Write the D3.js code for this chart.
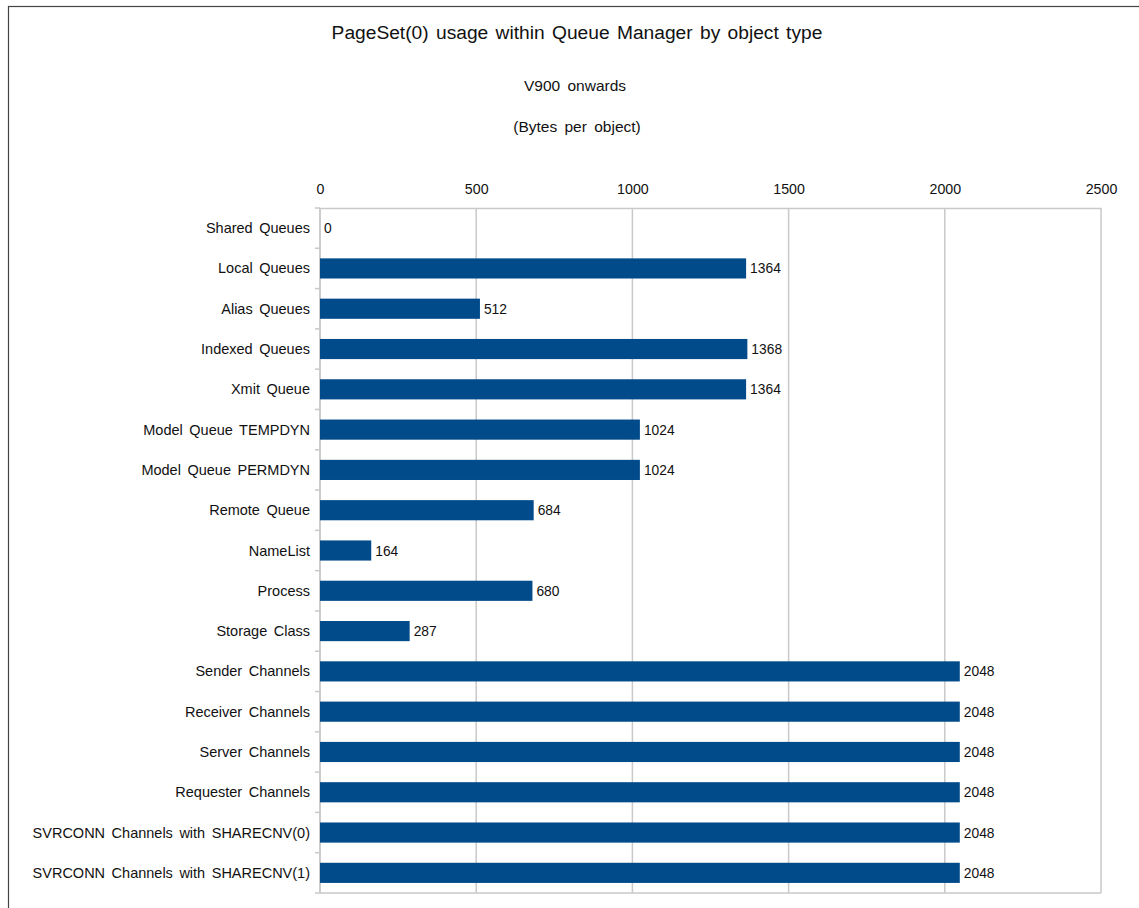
<!DOCTYPE html>
<html>
<head>
<meta charset="utf-8">
<script src="https://cdn.jsdelivr.net/npm/d3@7/dist/d3.min.js"></script>
<style>
  html, body { margin: 0; padding: 0; background: #fff; }
  svg { display: block; font-family: "Liberation Sans", Arial, Helvetica, sans-serif; }
</style>
</head>
<body>
<svg id="chart" width="1139" height="908"></svg>
<script>
// Object types held in PageSet(0), top to bottom
const categories = [
  "Shared Queues",
  "Local Queues",
  "Alias Queues",
  "Indexed Queues",
  "Xmit Queue",
  "Model Queue TEMPDYN",
  "Model Queue PERMDYN",
  "Remote Queue",
  "NameList",
  "Process",
  "Storage Class",
  "Sender Channels",
  "Receiver Channels",
  "Server Channels",
  "Requester Channels",
  "SVRCONN Channels with SHARECNV(0)",
  "SVRCONN Channels with SHARECNV(1)"
];

// Bytes per object
const bytesPerObject = [0, 1364, 512, 1368, 1364, 1024, 1024, 684, 164, 680, 287, 2048, 2048, 2048, 2048, 2048, 2048];

const xTicks = [0, 500, 1000, 1500, 2000, 2500];

const titleText = "PageSet(0) usage within Queue Manager by object type";
const subtitleText = "V900 onwards";
const unitText = "(Bytes per object)";

const svg = d3.select("#chart");
const W = 1139, H = 908;
const plot = { left: 320, right: 1101, top: 208, bottom: 893 };
const barColor = "#024b8a";
const gridColor = "#c9c9c9";

// outer frame
svg.append("rect")
  .attr("x", 8.5).attr("y", 6.5)
  .attr("width", W + 10).attr("height", H + 10)
  .attr("fill", "#fff").attr("stroke", "#444").attr("stroke-width", 1.2);

// titles
svg.append("text").attr("x", 577).attr("y", 39)
  .attr("text-anchor", "middle").attr("font-size", 19.2)
  .attr("word-spacing", 2).attr("fill", "#111").text(titleText);
svg.append("text").attr("x", 575).attr("y", 91)
  .attr("text-anchor", "middle").attr("font-size", 15.5)
  .attr("word-spacing", 3).attr("fill", "#111").text(subtitleText);
svg.append("text").attr("x", 577).attr("y", 132)
  .attr("text-anchor", "middle").attr("font-size", 15.5)
  .attr("word-spacing", 3).attr("fill", "#111").text(unitText);

const x = d3.scaleLinear().domain([0, 2500]).range([plot.left, plot.right]);
const y = d3.scaleBand().domain(categories).range([plot.top, plot.bottom]).paddingInner(0.5).paddingOuter(0.25);

// vertical gridlines
svg.append("g").selectAll("line").data(xTicks).join("line")
  .attr("x1", d => x(d)).attr("x2", d => x(d))
  .attr("y1", plot.top).attr("y2", plot.bottom)
  .attr("stroke", gridColor).attr("stroke-width", 1.5);

// top axis
const xAxis = svg.append("g").attr("transform", `translate(0,${plot.top})`)
  .call(d3.axisTop(x).tickValues(xTicks).tickSize(0).tickPadding(14).tickFormat(d3.format("d")));
xAxis.select(".domain").attr("stroke", gridColor).attr("stroke-width", 1.5);
xAxis.selectAll("text").attr("font-size", 14.2).attr("fill", "#111")
  .attr("font-family", "'Liberation Sans', Arial, sans-serif");

// bottom line
svg.append("line").attr("x1", plot.left).attr("x2", plot.right)
  .attr("y1", plot.bottom).attr("y2", plot.bottom)
  .attr("stroke", gridColor).attr("stroke-width", 1.5);

// left axis with ticks between categories
const boundaries = d3.range(categories.length + 1).map(i => plot.top + i * (plot.bottom - plot.top) / categories.length);
svg.append("line").attr("x1", plot.left).attr("x2", plot.left)
  .attr("y1", plot.top).attr("y2", plot.bottom)
  .attr("stroke", gridColor).attr("stroke-width", 1.5);
svg.append("g").selectAll("line").data(boundaries).join("line")
  .attr("x1", plot.left - 5).attr("x2", plot.left)
  .attr("y1", d => d).attr("y2", d => d)
  .attr("stroke", gridColor).attr("stroke-width", 1.5);

// category labels
svg.append("g").selectAll("text").data(categories).join("text")
  .attr("x", plot.left - 10)
  .attr("y", d => y(d) + y.bandwidth() / 2 + 5)
  .attr("text-anchor", "end").attr("font-size", 14.5)
  .attr("word-spacing", 2.5).attr("fill", "#111")
  .text(d => d);

const rows = categories.map((c, i) => ({ c, v: bytesPerObject[i] }));

// bars
svg.append("g").selectAll("rect").data(rows).join("rect")
  .attr("x", x(0))
  .attr("y", d => y(d.c))
  .attr("width", d => x(d.v) - x(0))
  .attr("height", y.bandwidth())
  .attr("fill", barColor);

// value labels
svg.append("g").selectAll("text").data(rows).join("text")
  .attr("x", d => x(d.v) + 4)
  .attr("y", d => y(d.c) + y.bandwidth() / 2 + 5)
  .attr("font-size", 13.8).attr("fill", "#111")
  .text(d => d.v);
</script>
</body>
</html>
